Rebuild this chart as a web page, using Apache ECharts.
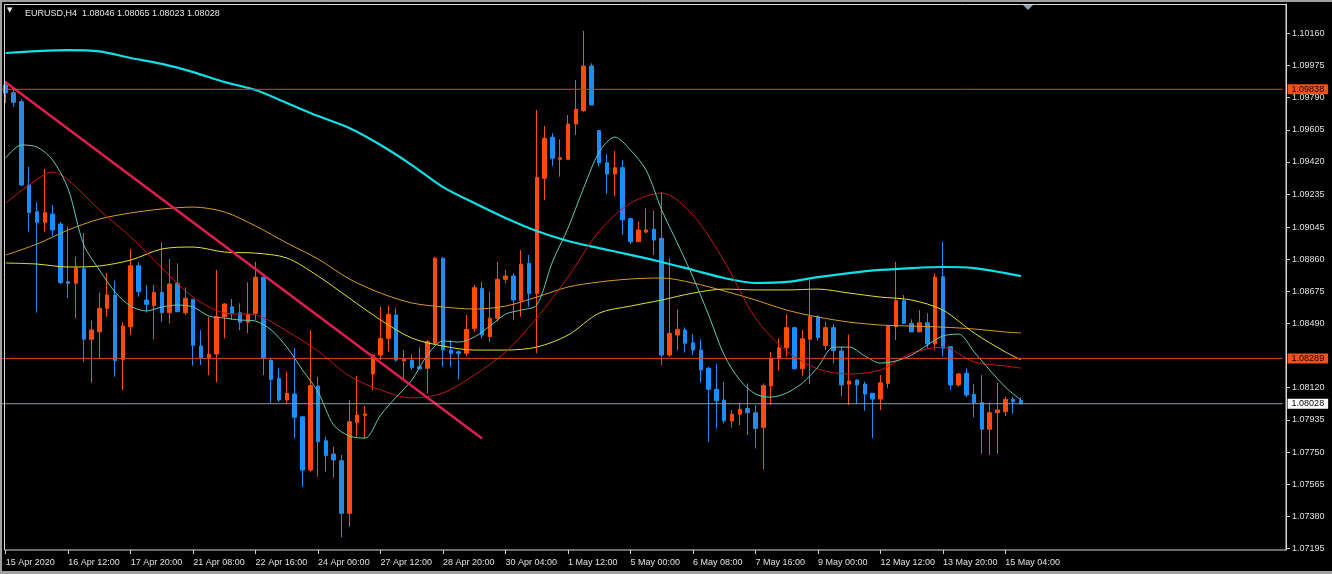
<!DOCTYPE html>
<html>
<head>
<meta charset="utf-8">
<script src="https://cdn.jsdelivr.net/npm/echarts@6/dist/echarts.min.js"></script>
<style>
html,body{margin:0;padding:0;background:#000;}
#chart{width:1332px;height:574px;}
</style>
</head>
<body>
<div id="chart"></div>
<script>
// ---------------- DATA ----------------
const symbolTitle = 'EURUSD,H4  1.08046 1.08065 1.08023 1.08028';
const xTickLabels = ['15 Apr 2020','16 Apr 12:00','17 Apr 20:00','21 Apr 08:00','22 Apr 16:00','24 Apr 00:00','27 Apr 12:00','28 Apr 20:00','30 Apr 04:00','1 May 12:00','5 May 00:00','6 May 08:00','7 May 16:00','9 May 00:00','12 May 12:00','13 May 20:00','15 May 04:00'];
const yTickLabels = ['1.07195','1.07380','1.07565','1.07750','1.07935','1.08120','1.08490','1.08675','1.08860','1.09045','1.09235','1.09420','1.09605','1.09790','1.09975','1.10160'];

const opens = [1.09863,1.09818,1.09767,1.09287,1.09133,1.09072,1.09120,1.09062,1.08730,1.08721,1.08805,1.08399,1.08442,1.08577,1.08654,1.08283,1.08471,1.08822,1.08625,1.08592,1.08669,1.08552,1.08721,1.08552,1.08629,1.08360,1.08293,1.08314,1.08529,1.08586,1.08552,1.08497,1.08548,1.08756,1.08279,1.08174,1.08049,1.08084,1.07953,1.07646,1.08130,1.07815,1.07738,1.07700,1.07397,1.07921,1.07961,1.08199,1.08308,1.08404,1.08539,1.08275,1.08279,1.08241,1.08232,1.08376,1.08865,1.08337,1.08327,1.08318,1.08462,1.08692,1.08414,1.08520,1.08744,1.08763,1.08621,1.08836,1.08663,1.09326,1.09562,1.09435,1.09435,1.09638,1.09715,1.09972,1.09600,1.09415,1.09350,1.09387,1.09093,1.08961,1.09016,1.09032,1.08980,1.08308,1.08423,1.08452,1.08379,1.08337,1.08232,1.08111,1.08049,1.07928,1.07968,1.08000,1.07976,1.07892,1.08130,1.08289,1.08350,1.08466,1.08229,1.08399,1.08529,1.08364,1.08466,1.08331,1.08140,1.08164,1.08140,1.08088,1.08055,1.08145,1.08471,1.08621,1.08491,1.08442,1.08494,1.08372,1.08759,1.08356,1.08136,1.08203,1.08082,1.08034,1.07881,1.07976,1.07982,1.08053,1.08046];
const closes = [1.09817,1.09763,1.09287,1.09128,1.09072,1.09128,1.09028,1.08725,1.08721,1.08809,1.08399,1.08452,1.08577,1.08654,1.08276,1.08475,1.08822,1.08673,1.08600,1.08669,1.08552,1.08717,1.08558,1.08635,1.08364,1.08293,1.08312,1.08529,1.08602,1.08548,1.08497,1.08544,1.08756,1.08289,1.08168,1.08049,1.08088,1.07950,1.07646,1.08132,1.07809,1.07729,1.07704,1.07397,1.07924,1.07963,1.07969,1.08308,1.08404,1.08543,1.08279,1.08283,1.08237,1.08229,1.08385,1.08865,1.08337,1.08318,1.08318,1.08456,1.08696,1.08423,1.08520,1.08744,1.08763,1.08625,1.08830,1.08663,1.09331,1.09556,1.09441,1.09444,1.09638,1.09723,1.09972,1.09748,1.09415,1.09350,1.09387,1.09087,1.08961,1.09028,1.09028,1.08970,1.08308,1.08433,1.08456,1.08376,1.08337,1.08222,1.08111,1.08045,1.07930,1.07968,1.07996,1.07976,1.07886,1.08132,1.08289,1.08350,1.08466,1.08229,1.08402,1.08529,1.08408,1.08466,1.08333,1.08136,1.08159,1.08136,1.08084,1.08055,1.08149,1.08475,1.08621,1.08491,1.08442,1.08494,1.08372,1.08756,1.08347,1.08136,1.08199,1.08078,1.08034,1.07881,1.07976,1.07992,1.08053,1.08039,1.08028];
const lows = [1.09759,1.09736,1.09281,1.09018,1.08552,1.09018,1.08995,1.08717,1.08635,1.08520,1.08270,1.08149,1.08289,1.08529,1.08183,1.08107,1.08423,1.08644,1.08552,1.08399,1.08500,1.08491,1.08556,1.08539,1.08247,1.08251,1.08193,1.08151,1.08404,1.08510,1.08452,1.08433,1.08510,1.08193,1.08030,1.08039,1.08030,1.07829,1.07550,1.07637,1.07608,1.07637,1.07604,1.07259,1.07320,1.07838,1.07829,1.08107,1.08279,1.08327,1.08270,1.08164,1.08222,1.08228,1.08088,1.08366,1.08241,1.08241,1.08168,1.08302,1.08442,1.08404,1.08385,1.08500,1.08721,1.08510,1.08529,1.08586,1.08318,1.09201,1.09396,1.09335,1.09431,1.09575,1.09709,1.09745,1.09392,1.09235,1.09224,1.09000,1.08947,1.08960,1.09009,1.08884,1.08251,1.08299,1.08337,1.08322,1.08308,1.08149,1.07809,1.07886,1.07915,1.07892,1.07905,1.07848,1.07771,1.07650,1.08020,1.08218,1.08299,1.08226,1.08187,1.08141,1.08391,1.08337,1.08260,1.08072,1.08020,1.08026,1.07988,1.07829,1.07992,1.08117,1.08395,1.08487,1.08439,1.08439,1.08347,1.08337,1.08299,1.08107,1.08126,1.08065,1.07950,1.07742,1.07733,1.07742,1.07957,1.07973,1.08023];
const highs = [1.09886,1.09840,1.09782,1.09391,1.09187,1.09379,1.09172,1.09074,1.09047,1.08874,1.09011,1.08506,1.08667,1.08779,1.08736,1.08497,1.08919,1.08842,1.08711,1.08711,1.08957,1.08861,1.08836,1.08698,1.08631,1.08452,1.08529,1.08798,1.08606,1.08631,1.08606,1.08727,1.08845,1.08760,1.08291,1.08232,1.08212,1.08347,1.07955,1.08452,1.08183,1.07838,1.07780,1.07733,1.08049,1.08187,1.08015,1.08312,1.08586,1.08592,1.08577,1.08337,1.08312,1.08353,1.08395,1.08874,1.08874,1.08395,1.08337,1.08539,1.08711,1.08730,1.08673,1.08845,1.08798,1.08779,1.08913,1.08884,1.09719,1.09627,1.09585,1.09550,1.09690,1.09891,1.10174,1.09988,1.09604,1.09465,1.09483,1.09431,1.09095,1.09076,1.09153,1.09139,1.09248,1.08865,1.08571,1.08468,1.08429,1.08399,1.08241,1.08257,1.08155,1.07992,1.08034,1.08145,1.08020,1.08145,1.08327,1.08404,1.08543,1.08471,1.08452,1.08740,1.08537,1.08500,1.08487,1.08356,1.08427,1.08168,1.08155,1.08091,1.08193,1.08481,1.08845,1.08654,1.08514,1.08567,1.08548,1.08779,1.08961,1.08356,1.08206,1.08232,1.08141,1.08193,1.08034,1.08149,1.08068,1.08068,1.08065];

// moving averages, read at sampled bars
const maIdx = [0,4,8,12,16,20,24,28,32,36,40,44,48,52,56,60,64,68,72,76,80,84,88,92,96,100,104,108,112,116,120,124,128,130];
const maCyan = [1.10047,1.10058,1.10064,1.10056,1.10018,1.09984,1.09937,1.09880,1.09834,1.09759,1.09684,1.09615,1.09517,1.09402,1.09275,1.09183,1.09097,1.09022,1.08965,1.08924,1.08885,1.08844,1.08798,1.08752,1.08723,1.08729,1.08757,1.08780,1.08798,1.08809,1.08815,1.08809,1.08780,1.08763];
const maOrange = [1.08884,1.08947,1.09028,1.09091,1.09126,1.09149,1.09160,1.09132,1.09051,1.08953,1.08861,1.08746,1.08665,1.08608,1.08585,1.08573,1.08590,1.08642,1.08700,1.08729,1.08746,1.08752,1.08723,1.08677,1.08625,1.08567,1.08527,1.08498,1.08481,1.08475,1.08469,1.08458,1.08441,1.08435];
const maYellow = [1.08838,1.08832,1.08815,1.08821,1.08855,1.08919,1.08930,1.08901,1.08895,1.08867,1.08763,1.08636,1.08510,1.08406,1.08360,1.08337,1.08337,1.08354,1.08423,1.08550,1.08590,1.08625,1.08665,1.08688,1.08683,1.08683,1.08688,1.08665,1.08642,1.08625,1.08567,1.08435,1.08326,1.08280];
const redIdx = [0,3,6,8,12,16,20,24,28,32,36,40,44,48,52,56,60,64,68,72,76,80,84,88,92,96,100,104,108,112,116,120,124,128,130];
const maRed = [1.09183,1.09287,1.09362,1.09316,1.09143,1.08988,1.08809,1.08642,1.08550,1.08539,1.08446,1.08331,1.08187,1.08107,1.08061,1.08090,1.08193,1.08326,1.08521,1.08757,1.09022,1.09183,1.09241,1.09114,1.08849,1.08521,1.08331,1.08228,1.08199,1.08222,1.08320,1.08354,1.08268,1.08245,1.08233];
const tealIdx = [0,2,4,6,8,10,12,14,16,18,20,22,24,26,28,30,32,34,36,38,40,42,44,46,48,50,52,54,56,58,60,62,64,66,68,70,72,74,76,78,80,82,84,86,88,90,92,94,96,98,100,102,104,106,108,110,112,114,116,118,120,122,124,126,128,130];
const maTeal = [1.09442,1.09517,1.09506,1.09431,1.09264,1.08942,1.08798,1.08671,1.08590,1.08562,1.08585,1.08596,1.08585,1.08533,1.08521,1.08510,1.08504,1.08452,1.08354,1.08222,1.08095,1.07905,1.07842,1.07830,1.07963,1.08066,1.08164,1.08308,1.08389,1.08383,1.08412,1.08475,1.08544,1.08567,1.08596,1.08844,1.09039,1.09270,1.09477,1.09563,1.09488,1.09373,1.09143,1.08953,1.08757,1.08539,1.08308,1.08164,1.08084,1.08066,1.08090,1.08147,1.08239,1.08354,1.08354,1.08303,1.08262,1.08274,1.08308,1.08366,1.08418,1.08429,1.08326,1.08222,1.08124,1.08049];

// trend line anchor points (bar index, price)
const trendIdx = [0, 61];
const trendVals = [1.09878, 1.07828];

// horizontal price levels
const levelHigh = 1.09838;
const levelLow = 1.08289;
const bidValue = 1.08028;

const totalSlots = 164; // visible bar slots incl. right shift
// ---------------- BUILD ----------------
const categories = Array.from({length: totalSlots}, (_, i) => String(i));
const candles = opens.map((o, i) => [o, closes[i], lows[i], highs[i]]);
const pairs = (idx, vals) => idx.map((x, k) => [x, vals[k]]);
const yTicks = yTickLabels.map(Number);
const isTick = (i) => i % 8 === 0 && (i / 8) < xTickLabels.length;
const FONT = 'Liberation Sans';

const chart = echarts.init(document.getElementById('chart'), null, {renderer: 'canvas'});

function maSeries(name, data, color, width) {
  return {
    name, type: 'line', data, symbol: 'none', smooth: 0.3,
    lineStyle: {color, width}, itemStyle: {color}, silent: true, z: 3
  };
}

// full-width horizontal level drawn on a 0..1 helper x axis
function levelSeries(name, v, lineColor, bg, fg) {
  return {
    name, type: 'line', xAxisIndex: 1, data: [[0, v], [1, v]], symbol: 'none',
    lineStyle: {color: lineColor, width: 1}, itemStyle: {color: lineColor}, silent: true, z: 5,
    endLabel: {
      show: true, distance: 5, formatter: () => v.toFixed(5),
      backgroundColor: bg, color: fg, padding: [1, 4, 0, 4], fontSize: 9, fontFamily: FONT
    }
  };
}

const option = {
  backgroundColor: '#000000',
  animation: false,
  title: {
    text: symbolTitle, left: 20, top: 4,
    textStyle: {color: '#E6E6E6', fontSize: 9, fontWeight: 'normal', fontFamily: FONT}
  },
  grid: {left: 1.8, top: 4, width: 1280.8, height: 546, containLabel: false},
  xAxis: [{
    type: 'category', data: categories, boundaryGap: true,
    axisLine: {show: false, onZero: false},
    axisTick: {show: true, alignWithLabel: true, interval: (i) => isTick(i), length: 4, lineStyle: {color: '#D0D0D0'}},
    axisLabel: {
      interval: (i) => isTick(i), align: 'left', margin: 8,
      formatter: (v, i) => (isTick(i) ? xTickLabels[i / 8] : ''),
      color: '#E0E0E0', fontSize: 9, fontFamily: FONT
    },
    splitLine: {show: false}
  }, {
    type: 'value', min: 0, max: 1, show: false,
    axisLine: {show: false, onZero: false}, axisTick: {show: false}, axisLabel: {show: false}, splitLine: {show: false}
  }],
  yAxis: {
    type: 'value', position: 'right', offset: 3.4,
    min: 1.07186, max: 1.10329,
    axisLine: {show: true, onZero: false, lineStyle: {color: '#D8D8D8'}},
    axisTick: {show: true, length: 4, customValues: yTicks, lineStyle: {color: '#D0D0D0'}},
    axisLabel: {customValues: yTicks, formatter: (v) => v.toFixed(5), margin: 6, color: '#E0E0E0', fontSize: 9, fontFamily: FONT},
    splitLine: {show: false}
  },
  series: [
    {
      type: 'candlestick', data: candles, barWidth: 4, z: 2,
      itemStyle: {color: '#FF4A0A', color0: '#1E8CF0', borderColor: '#FF4A0A', borderColor0: '#1E8CF0', borderWidth: 1}
    },
    maSeries('MA200', pairs(maIdx, maCyan), '#10E0E8', 2.2),
    maSeries('MA100', pairs(maIdx, maOrange), '#D89A28', 1),
    maSeries('MA50', pairs(maIdx, maYellow), '#E2E030', 1),
    maSeries('MA21', pairs(redIdx, maRed), '#C01818', 1),
    maSeries('MA8', pairs(tealIdx, maTeal), '#62C8B4', 1),
    {
      name: 'Trend', type: 'line', data: pairs(trendIdx, trendVals), symbol: 'none',
      lineStyle: {color: '#E01E50', width: 2.5}, silent: true, z: 4
    },
    levelSeries('LevelHigh', levelHigh, '#E0461E', '#F0501A', '#1A0000'),
    levelSeries('LevelLow', levelLow, '#E0461E', '#F0501A', '#1A0000'),
    levelSeries('Bid', bidValue, '#8E9AA8', '#FFFFFF', '#000000')
  ],
  graphic: [
    {type: 'rect', shape: {x: 0, y: 0, width: 1332, height: 2}, style: {fill: '#A0A0A0'}, silent: true},
    {type: 'rect', shape: {x: 0, y: 0, width: 2, height: 574}, style: {fill: '#A0A0A0'}, silent: true},
    {type: 'rect', shape: {x: 0, y: 571, width: 1332, height: 3}, style: {fill: '#A0A0A0'}, silent: true},
    {type: 'rect', shape: {x: 4.5, y: 4.5, width: 1281.5, height: 545.5}, style: {fill: null, stroke: '#D8D8D8', lineWidth: 1}, silent: true, z: 10},
    {type: 'polygon', shape: {points: [[1023, 5], [1033, 5], [1028, 10]]}, style: {fill: '#8C9CB0'}, silent: true, z: 11},
    {type: 'text', left: 7, top: 7, style: {text: '▼', fill: '#E6E6E6', font: '7px "DejaVu Sans"'}, silent: true}
  ]
};
chart.setOption(option);
</script>
</body>
</html>
